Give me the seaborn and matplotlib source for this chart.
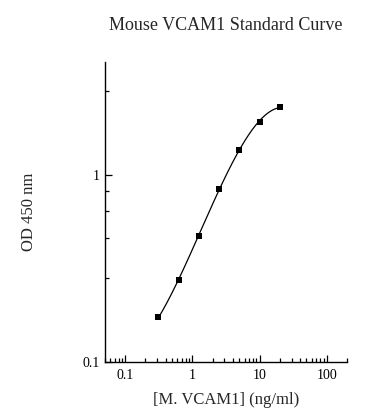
import numpy as np
import pandas as pd
import matplotlib
matplotlib.use('Agg')
import matplotlib.pyplot as plt
import matplotlib.ticker as mticker
import seaborn as sns

# standard curve data
conc = [0.3125, 0.625, 1.25, 2.5, 5, 10, 20]
od = [0.173, 0.276, 0.472, 0.845, 1.36, 1.92, 2.30]

y_minor = [0.28, 0.46, 0.64, 0.82, 2.8]

sns.set_style("ticks")
plt.rcParams['font.family'] = ['Liberation Serif', 'DejaVu Serif']

df = pd.DataFrame({'conc': conc, 'od': od})

# smooth fit in log-log space
coef = np.polyfit(np.log10(df['conc']), np.log10(df['od']), 3)
xs = np.logspace(np.log10(min(conc)), np.log10(max(conc)), 200)
fit = pd.DataFrame({'conc': xs, 'od': 10 ** np.polyval(coef, np.log10(xs))})

fig = plt.figure(figsize=(3.88, 4.20), dpi=100)
ax = fig.add_axes([0.2706, 0.138, 0.6234, 0.714])

sns.lineplot(data=fit, x='conc', y='od', ax=ax, color='black', linewidth=0.9)
sns.scatterplot(data=df, x='conc', y='od', ax=ax, color='black', marker='s',
                s=22, edgecolor='black', linewidth=0, zorder=3)

ax.set_xscale('log'); ax.set_yscale('log')
ax.set_xlim(0.05, 200); ax.set_ylim(0.1, 4)

ax.xaxis.set_major_locator(mticker.FixedLocator([0.1, 1, 10, 100]))
ax.xaxis.set_major_formatter(mticker.FixedFormatter(['0.1', '1', '10', '100']))
ax.xaxis.set_minor_locator(mticker.LogLocator(base=10, subs=np.arange(2, 10)))
ax.xaxis.set_minor_formatter(mticker.NullFormatter())
ax.yaxis.set_major_locator(mticker.FixedLocator([0.1, 1]))
ax.yaxis.set_major_formatter(mticker.FixedFormatter(['0.1', '1']))
ax.yaxis.set_minor_locator(mticker.FixedLocator(y_minor))
ax.yaxis.set_minor_formatter(mticker.NullFormatter())

ax.tick_params(which='both', direction='in', labelsize=10, width=0.9, colors='black')
ax.tick_params(which='major', length=5)
ax.tick_params(which='minor', length=3)
ax.tick_params(axis='x', pad=5)
for s in ['top', 'right']:
    ax.spines[s].set_visible(False)
for s in ['left', 'bottom']:
    ax.spines[s].set_linewidth(1.0)
    ax.spines[s].set_color('black')

ax.set_xlabel('[M. VCAM1] (ng/ml)', fontsize=12, labelpad=7)
ax.set_ylabel('OD 450 nm', fontsize=12, labelpad=33)
ax.set_title('Mouse VCAM1 Standard Curve', fontsize=13, pad=23)

fig.savefig('out.png', dpi=100)
